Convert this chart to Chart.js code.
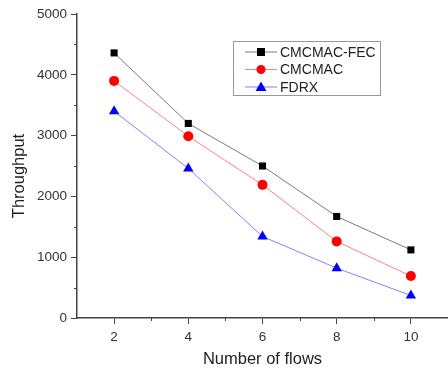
<!DOCTYPE html>
<html><head><meta charset="utf-8">
<script src="https://cdn.jsdelivr.net/npm/chart.js@4"></script>
<style>html,body{margin:0;padding:0;background:#fff}#wrap{width:448px;height:369px}</style>
</head><body><div id="wrap"><canvas id="c" width="448" height="369"></canvas></div>
<script>
const flows = [2, 4, 6, 8, 10];
const fecValues = [4360, 3200, 2500, 1670, 1120];
const cmcmacValues = [3900, 2990, 2190, 1260, 690];
const fdrxValues = [3400, 2460, 1340, 820, 370];
const xTicks = [2, 4, 6, 8, 10];
const yTicks = [0, 1000, 2000, 3000, 4000, 5000];
const seriesNames = ['CMCMAC-FEC', 'CMCMAC', 'FDRX'];
const yTitle = 'Throughput';

const FONT = "'Liberation Sans', Arial, sans-serif";
const pts = v => flows.map((x, i) => ({x, y: v[i]}));

const extras = {
  id: 'extras',
  afterDraw(chart) {
    const ctx = chart.ctx, xs = chart.scales.x, ys = chart.scales.y;
    const ca = chart.chartArea;
    ctx.save();
    ctx.strokeStyle = '#444'; ctx.lineWidth = 1;
    [3,5,7,9].forEach(v => {
      const p = Math.round(xs.getPixelForValue(v)) + 0.5;
      ctx.beginPath(); ctx.moveTo(p, ca.bottom); ctx.lineTo(p, ca.bottom + 3); ctx.stroke();
    });
    [500,1500,2500,3500,4500].forEach(v => {
      const p = Math.round(ys.getPixelForValue(v)) + 0.5;
      ctx.beginPath(); ctx.moveTo(ca.left, p); ctx.lineTo(ca.left - 3, p); ctx.stroke();
    });
    // y axis title
    ctx.save();
    ctx.translate(19, 176); ctx.rotate(-Math.PI / 2);
    ctx.font = '16.5px ' + FONT; ctx.fillStyle = '#222';
    ctx.textAlign = 'center'; ctx.textBaseline = 'middle';
    ctx.fillText(yTitle, 0, 0);
    ctx.restore();
    // legend box
    const bx = 233.5, by = 41.5, bw = 147, bh = 54;
    ctx.strokeStyle = '#999'; ctx.lineWidth = 1;
    ctx.strokeRect(bx, by, bw, bh);
    ctx.font = '14px ' + FONT; ctx.textBaseline = 'middle'; ctx.fillStyle = '#222';
    chart.data.datasets.forEach((ds, i) => {
      const yy = 52 + i * 17.5;
      ctx.strokeStyle = ds.borderColor; ctx.lineWidth = 1;
      ctx.beginPath(); ctx.moveTo(245, yy); ctx.lineTo(277, yy); ctx.stroke();
      ctx.fillStyle = ds.pointBackgroundColor;
      ctx.beginPath();
      if (ds.pointStyle === 'rect') { ctx.rect(257, yy - 4, 8, 8); }
      else if (ds.pointStyle === 'circle') { ctx.arc(261, yy, 4.5, 0, Math.PI * 2); }
      else { ctx.moveTo(261, yy - 5.5); ctx.lineTo(266.5, yy + 4); ctx.lineTo(255.5, yy + 4); ctx.closePath(); }
      ctx.fill();
      ctx.fillStyle = '#222';
      ctx.fillText(ds.label, 280, yy + 1);
    });
    ctx.restore();
  }
};

new Chart(document.getElementById('c'), {
  type: 'line',
  data: {
    datasets: [
      {label: seriesNames[0], data: pts(fecValues), borderColor: '#7a7a7a', borderWidth: 1,
       pointStyle: 'rect', pointRadius: 5, pointBackgroundColor: '#000', pointBorderColor: '#000', pointBorderWidth: 0},
      {label: seriesNames[1], data: pts(cmcmacValues), borderColor: '#ff8080', borderWidth: 1,
       pointStyle: 'circle', pointRadius: 5, pointBackgroundColor: '#ff0000', pointBorderColor: '#ff0000', pointBorderWidth: 0},
      {label: seriesNames[2], data: pts(fdrxValues), borderColor: '#8080ff', borderWidth: 1,
       pointStyle: 'triangle', pointRadius: 6, pointBackgroundColor: '#0000ff', pointBorderColor: '#0000ff', pointBorderWidth: 0}
    ]
  },
  options: {
    responsive: false, animation: false, devicePixelRatio: 1,
    layout: {autoPadding: false, padding: {top: 14, right: 0, left: 0, bottom: 0}},
    plugins: {legend: {display: false}, tooltip: {enabled: false}},
    scales: {
      x: {
        type: 'linear', min: 1, max: 11,
        afterBuildTicks: s => { s.ticks = xTicks.map(v => ({value: v})); },
        afterFit: s => { s.height = 51; s.paddingRight = 0; s.paddingLeft = 0; },
        border: {display: true, color: '#444', width: 1.5},
        grid: {display: true, drawOnChartArea: false, tickLength: 6, color: '#444'},
        ticks: {color: '#333', font: {family: FONT, size: 13.5}, padding: 5, maxRotation: 0},
        title: {display: true, text: 'Number of flows', color: '#222', font: {family: FONT, size: 16.5}, padding: {top: 4, bottom: 0}}
      },
      y: {
        min: 0, max: 5000,
        afterBuildTicks: s => { s.ticks = yTicks.map(v => ({value: v})); },
        afterFit: s => { s.width = 77; s.paddingTop = 0; s.paddingBottom = 0; },
        border: {display: true, color: '#444', width: 1.5},
        grid: {display: true, drawOnChartArea: false, tickLength: 6, color: '#444'},
        ticks: {color: '#333', font: {family: FONT, size: 13.5}, padding: 4, callback: v => String(v)}
      }
    }
  },
  plugins: [extras]
});
</script></body></html>
